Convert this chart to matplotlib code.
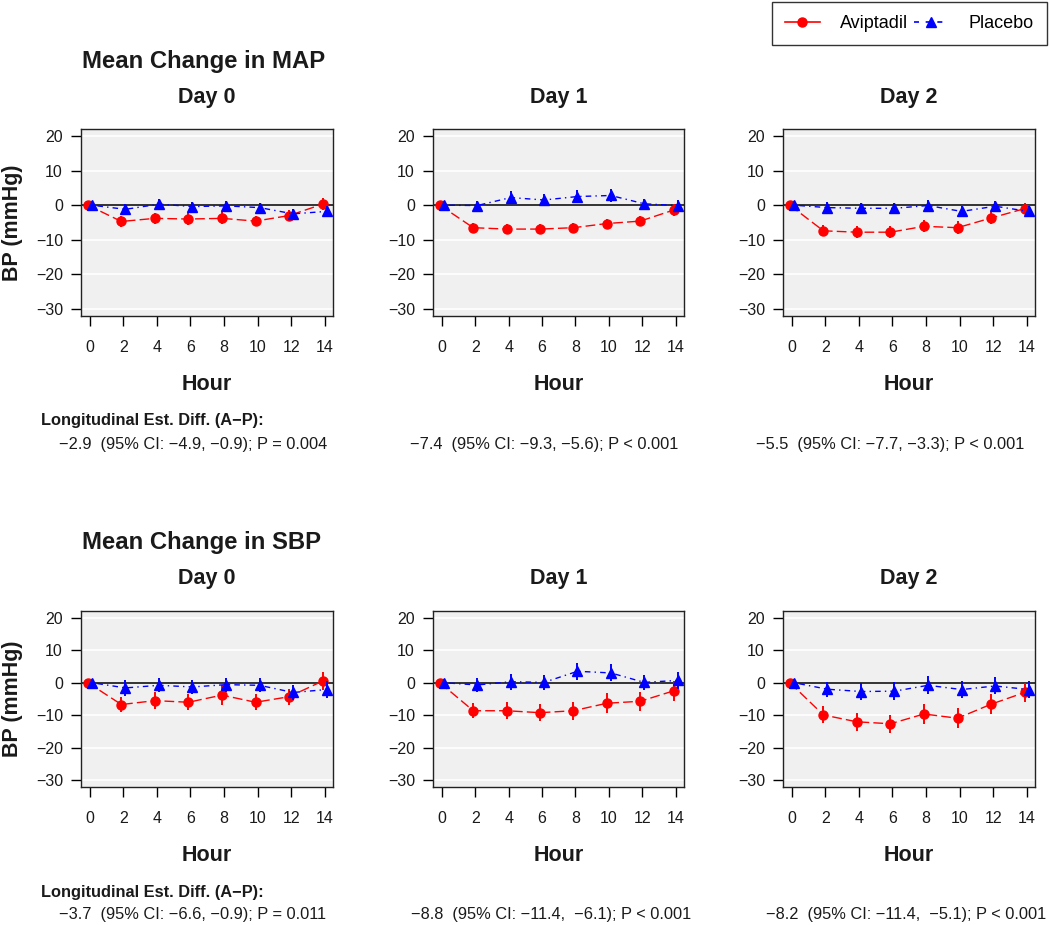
import matplotlib
matplotlib.use("Agg")
import matplotlib.pyplot as plt
from matplotlib.lines import Line2D
from matplotlib import font_manager as fm

# ---------------- data ----------------
hours = [0, 2, 4, 6, 8, 10, 12, 14]
day_labels = ["Day 0", "Day 1", "Day 2"]
yticks = [-30, -20, -10, 0, 10, 20]

map_d0_avip = [0, -4.7, -3.8, -4.0, -3.8, -4.6, -3.0, 0.3]
map_d0_avip_err = [0, 1.5, 1.5, 1.7, 1.7, 1.5, 1.5, 1.8]
map_d0_plac = [0, -1.2, 0.3, -0.4, -0.2, -0.7, -2.5, -1.8]
map_d0_plac_err = [0, 1.5, 1.6, 1.4, 1.5, 1.3, 1.4, 1.5]

map_d1_avip = [0, -6.5, -6.9, -6.9, -6.5, -5.3, -4.6, -1.4]
map_d1_avip_err = [0, 1.3, 1.5, 1.4, 1.3, 1.4, 1.4, 1.8]
map_d1_plac = [0, -0.1, 2.2, 1.5, 2.5, 2.8, 0.4, -0.1]
map_d1_plac_err = [0, 1.2, 2.0, 1.6, 1.8, 1.9, 1.4, 1.5]

map_d2_avip = [0, -7.4, -7.8, -7.8, -6.1, -6.5, -3.7, -1.0]
map_d2_avip_err = [0, 1.6, 1.8, 1.8, 1.7, 1.8, 1.8, 1.6]
map_d2_plac = [0, -0.7, -0.9, -0.9, -0.1, -1.8, -0.3, -1.8]
map_d2_plac_err = [0, 1.5, 1.6, 1.6, 1.5, 1.5, 1.6, 1.6]

sbp_d0_avip = [0, -6.7, -5.5, -6.0, -3.8, -6.0, -4.3, 0.5]
sbp_d0_avip_err = [0, 2.2, 2.6, 2.4, 3.0, 2.4, 2.4, 2.8]
sbp_d0_plac = [0, -1.6, -0.8, -1.3, -0.6, -0.8, -3.0, -2.1]
sbp_d0_plac_err = [0, 2.4, 2.2, 2.2, 2.1, 2.2, 2.4, 2.6]

sbp_d1_avip = [0, -8.6, -8.6, -9.2, -8.6, -6.3, -5.7, -2.5]
sbp_d1_avip_err = [0, 2.3, 2.6, 2.6, 2.8, 3.0, 3.0, 3.0]
sbp_d1_plac = [0, -0.7, 0.3, 0.1, 3.5, 3.0, 0.1, 0.7]
sbp_d1_plac_err = [0, 2.0, 2.5, 2.4, 2.6, 2.6, 2.3, 2.6]

sbp_d2_avip = [0, -9.9, -12.0, -12.6, -9.6, -10.9, -6.6, -3.0]
sbp_d2_avip_err = [0, 2.6, 2.8, 2.8, 3.0, 3.0, 3.0, 2.8]
sbp_d2_plac = [0, -2.0, -2.7, -2.6, -0.8, -2.1, -1.0, -2.1]
sbp_d2_plac_err = [0, 2.3, 2.6, 2.7, 2.8, 2.6, 2.6, 2.6]

map_notes = ["\u22122.9  (95% CI: \u22124.9, \u22120.9); P = 0.004",
             "\u22127.4  (95% CI: \u22129.3, \u22125.6); P < 0.001",
             "\u22125.5  (95% CI: \u22127.7, \u22123.3); P < 0.001"]
sbp_notes = ["\u22123.7  (95% CI: \u22126.6, \u22120.9); P = 0.011",
             "\u22128.8  (95% CI: \u221211.4,  \u22126.1); P < 0.001",
             "\u22128.2  (95% CI: \u221211.4,  \u22125.1); P < 0.001"]

rows = [
    dict(title="Mean Change in MAP",
         avip=[map_d0_avip, map_d1_avip, map_d2_avip],
         avip_err=[map_d0_avip_err, map_d1_avip_err, map_d2_avip_err],
         plac=[map_d0_plac, map_d1_plac, map_d2_plac],
         plac_err=[map_d0_plac_err, map_d1_plac_err, map_d2_plac_err],
         notes=map_notes),
    dict(title="Mean Change in SBP",
         avip=[sbp_d0_avip, sbp_d1_avip, sbp_d2_avip],
         avip_err=[sbp_d0_avip_err, sbp_d1_avip_err, sbp_d2_avip_err],
         plac=[sbp_d0_plac, sbp_d1_plac, sbp_d2_plac],
         plac_err=[sbp_d0_plac_err, sbp_d1_plac_err, sbp_d2_plac_err],
         notes=sbp_notes),
]

# ---------------- style / layout ----------------
W, H = 1050, 925
plt.rcParams['font.family'] = ['Liberation Sans', 'DejaVu Sans']
names = {f.name for f in fm.fontManager.ttflist}
if 'Liberation Sans Narrow' in names:
    narrow_family = ['Liberation Sans Narrow', 'DejaVu Sans']
    note_size = 14.2
else:
    narrow_family = ['Liberation Sans', 'DejaVu Sans']
    note_size = 11.8

RED = '#FF0000'
BLUE = '#0000FF'
BG = '#F0F0F0'
TXT = '#1a1a1a'

fig = plt.figure(figsize=(W / 100, H / 100), dpi=100)


def fx(x):
    return x / W


def fy(y):
    return 1 - y / H


col_lr = [(81, 333), (433, 684), (783, 1035)]
row_tb = [(129, 316), (611, 787)]
row_off = [0, 481]
row_off_below = [0, 471]
note_x_rows = [[59, 410, 756], [59, 411, 766]]
dodge = 0.12

for r, row in enumerate(rows):
    top, bot = row_tb[r]
    fig.text(fx(82), fy(68 + row_off[r]), row['title'], fontsize=17.2,
             fontweight='bold', ha='left', va='baseline', color=TXT)
    fig.text(fx(13), fy((top + bot) / 2), "BP (mmHg)", rotation=90,
             fontsize=15.5, fontweight='bold', ha='center', va='center',
             color=TXT)
    fig.text(fx(41), fy(421 + row_off_below[r]),
             "Longitudinal Est. Diff. (A\u2212P):", family=narrow_family,
             fontsize=note_size, fontweight='bold', ha='left', va='center',
             color=TXT)
    for c in range(3):
        l, rt = col_lr[c]
        ax = fig.add_axes([fx(l), fy(bot), (rt - l) / W, (bot - top) / H])
        ax.set_facecolor(BG)
        ax.set_xlim(-0.53, 14.5)
        ax.set_ylim(-32, 22)
        for g in yticks:
            if g != 0:
                ax.axhline(g, color='white', lw=1.2, zorder=1)
        ax.axhline(0, color='black', lw=1.1, zorder=2)
        xa = [h - dodge for h in hours]
        xp = [h + dodge for h in hours]
        ax.errorbar(xa, row['avip'][c], yerr=row['avip_err'][c], color=RED,
                    ecolor=RED, elinewidth=1.4, capsize=0, marker='o',
                    ms=6.5, mec=RED, mfc=RED, lw=1.0,
                    linestyle=(0, (7, 3)), zorder=3)
        ax.errorbar(xp, row['plac'][c], yerr=row['plac_err'][c], color=BLUE,
                    ecolor=BLUE, elinewidth=1.4, capsize=0, marker='^',
                    ms=7.5, mec=BLUE, mfc=BLUE, lw=1.0,
                    linestyle=(0, (1, 3, 4, 3)), zorder=4)
        ax.set_xticks(hours)
        ax.set_xticklabels([str(h) for h in hours])
        ax.set_yticks(yticks)
        ax.set_yticklabels([str(v).replace('-', '\u2212') for v in yticks])
        ax.tick_params(axis='both', direction='out', length=7, width=1,
                       labelsize=11.5, colors='black', labelcolor=TXT)
        ax.tick_params(axis='x', pad=10)
        ax.tick_params(axis='y', pad=6)
        for s in ax.spines.values():
            s.set_color('#222222')
            s.set_linewidth(1.0)
        fig.text(fx((l + rt) / 2), fy(103 + row_off[r]), day_labels[c],
                 fontsize=15.5, fontweight='bold', ha='center',
                 va='baseline', color=TXT)
        fig.text(fx((l + rt) / 2), fy(390 + row_off_below[r]), "Hour",
                 fontsize=15.5, fontweight='bold', ha='center',
                 va='baseline', color=TXT)
        fig.text(fx(note_x_rows[r][c]), fy(444 + row_off_below[r]),
                 row['notes'][c], family=narrow_family, fontsize=note_size,
                 ha='left', va='center', color=TXT)

# legend
h_avip = Line2D([], [], color=RED, lw=1.2, marker='o', ms=6.5,
                linestyle='-')
h_plac = Line2D([], [], color=BLUE, lw=1.2, marker='^', ms=7.5,
                linestyle=(0, (3, 4)))
leg = fig.legend([h_avip, h_plac], ["Aviptadil", "Placebo"], ncol=2,
                 loc='upper right', bbox_to_anchor=(fx(1047), fy(2)),
                 borderaxespad=0, fontsize=13, frameon=True, fancybox=False,
                 handlelength=1.9, handletextpad=1.15, columnspacing=0.3,
                 borderpad=0.72)
leg.get_frame().set_edgecolor('black')
leg.get_frame().set_linewidth(1.0)

fig.savefig("out.png", dpi=100)
